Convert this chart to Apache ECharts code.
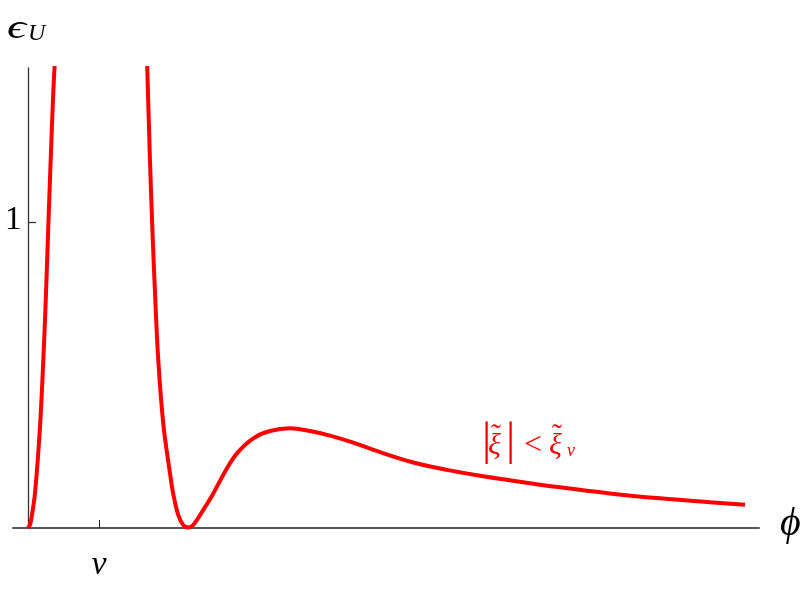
<!DOCTYPE html>
<html>
<head>
<meta charset="utf-8">
<style>
html,body{margin:0;padding:0;background:#fff;}
#main{width:809px;height:591px;}
</style>
<script src="https://cdn.jsdelivr.net/npm/echarts@6/dist/echarts.min.js"></script>
</head>
<body>
<div id="main"></div>
<script>
// Left branch of the curve
var leftX = [0, 0.03, 0.052, 0.099, 0.169, 0.216, 0.254, 0.286, 0.320, 0.356, 0.380];
var leftY = [0, 0.012, 0.037, 0.114, 0.330, 0.549, 0.768, 0.984, 1.203, 1.422, 1.53];
// Right branch of the curve
var rightX = [1.672, 1.680, 1.718, 1.751, 1.789, 1.835, 1.906, 2.000, 2.047, 2.117, 2.187, 2.258, 2.328, 2.469, 2.610, 2.775, 2.940, 3.173, 3.408, 3.690, 3.972, 4.254, 4.582, 4.958, 5.427, 5.897, 6.366, 6.789, 7.493, 8.197, 8.901, 9.606, 10.099];
var rightY = [1.56, 1.503, 1.203, 0.984, 0.768, 0.549, 0.340, 0.179, 0.110, 0.042, 0.010, 0.002, 0.010, 0.059, 0.113, 0.184, 0.243, 0.293, 0.317, 0.326, 0.317, 0.302, 0.279, 0.248, 0.214, 0.190, 0.171, 0.156, 0.133, 0.113, 0.097, 0.084, 0.076];
// Ticks
var xTickValues = [1];
var xTickLabels = ['v'];
var yTickValues = [1];
var yTickLabels = ['1'];

function pairs(xs, ys) { return xs.map(function (x, i) { return [x, ys[i]]; }); }

var chart = echarts.init(document.getElementById('main'));
var serif = '"Liberation Serif", "DejaVu Serif", serif';
var axisColor = '#555';
var red = '#ff0000';

function t(x, y, str, size, italic, color, sx) {
  return { type: 'text', left: x, top: y, scaleX: sx || 1, style: {
    text: str, fontFamily: serif, fontStyle: italic ? 'italic' : 'normal',
    fontSize: size, fill: color || '#000' } };
}

chart.setOption({
  animation: false,
  grid: { left: 13, right: 50, top: 68, bottom: 63, containLabel: false, outerBoundsMode: 'none' },
  xAxis: {
    type: 'value',
    min: -0.211, max: 10.296,
    axisLine: { show: true, onZero: true, lineStyle: { color: axisColor, width: 2 } },
    axisTick: { show: true, inside: true, length: 8, lineStyle: { color: '#222', width: 1 },
      customValues: xTickValues },
    axisLabel: { show: true, customValues: xTickValues,
      formatter: function (v) { var i = xTickValues.indexOf(v); return i >= 0 ? xTickLabels[i] : ''; },
      fontFamily: serif, fontStyle: 'italic', fontSize: 34, color: '#000', margin: 20 },
    splitLine: { show: false }
  },
  yAxis: {
    type: 'value',
    min: 0, max: 1.503,
    axisLine: { show: true, onZero: true, lineStyle: { color: '#333', width: 1.3 } },
    axisTick: { show: true, inside: true, length: 8, lineStyle: { color: '#333', width: 1.3 },
      customValues: yTickValues },
    axisLabel: { show: false },
    splitLine: { show: false }
  },
  series: [
    { type: 'line', data: pairs(leftX, leftY), showSymbol: false, smooth: 0.35, clip: true,
      lineStyle: { color: red, width: 4 } },
    { type: 'line', data: pairs(rightX, rightY), showSymbol: false, smooth: 0.35, clip: true,
      lineStyle: { color: red, width: 4 } }
  ],
  graphic: [
    t(5, 204, yTickLabels[0], 33, false),
    t(7, 12, 'ϵ', 34, true, '#000', 1.4),
    t(28, 22, 'U', 24, true),
    t(780, 504, 'ϕ', 40, true),
    t(482, 419, '|', 46, false, red),
    t(488, 431, 'ξ', 30, true, red),
    t(491, 421, '˜', 30, false, red),
    t(506, 419, '|', 46, false, red),
    t(524, 430, '<', 32, false, red),
    t(549, 431, 'ξ', 30, true, red),
    t(552, 421, '˜', 30, false, red),
    t(567, 442, 'v', 18, true, red)
  ]
});
</script>
</body>
</html>
